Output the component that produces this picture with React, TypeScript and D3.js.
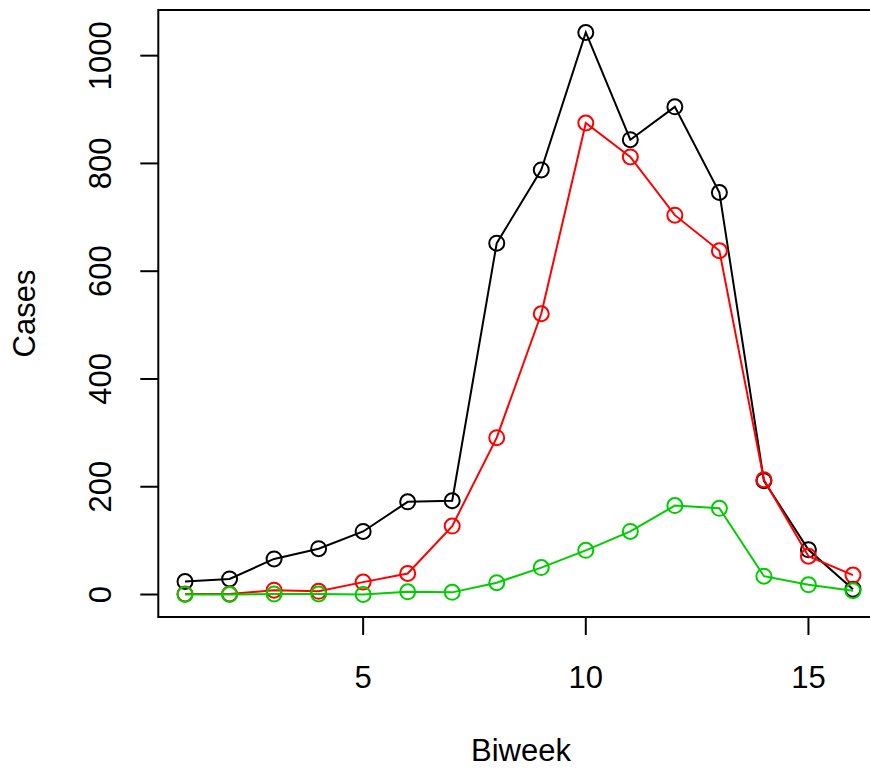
import React from "react";
import * as d3 from "d3";

const biweeks = [1, 2, 3, 4, 5, 6, 7, 8, 9, 10, 11, 12, 13, 14, 15, 16];
const totalCases = [24, 29, 66, 85, 117, 172, 174, 652, 788, 1043, 844, 905, 746, 211, 83, 10];
const redCases = [1, 1, 8, 6, 23, 39, 127, 291, 521, 875, 812, 704, 638, 213, 71, 36];
const greenCases = [0, 0, 1, 1, 0, 5, 4, 22, 50, 82, 117, 165, 160, 34, 18, 7];
const xTicks = [5, 10, 15];
const yTicks = [0, 200, 400, 600, 800, 1000];

const W = 870;
const H = 768;
const left = 158.3;
const right = 879.7;
const top = 10;
const bottom = 617;
const FONT = "'Liberation Sans', Arial, Helvetica, sans-serif";
const FS = 31;

export default function App() {
  const xMin = 1, xMax = 16;
  const xPad = (xMax - xMin) * 0.04;
  const x = d3.scaleLinear().domain([xMin - xPad, xMax + xPad]).range([left, right]);
  const all = [...totalCases, ...redCases, ...greenCases];
  const yMin = d3.min(all) as number;
  const yMax = d3.max(all) as number;
  const yPad = (yMax - yMin) * 0.04;
  const y = d3.scaleLinear().domain([yMin - yPad, yMax + yPad]).range([bottom, top]);

  const series = [
    { values: totalCases, color: "#000000" },
    { values: redCases, color: "#FF0000" },
    { values: greenCases, color: "#00CD00" },
  ];

  const line = d3
    .line<number>()
    .x((_, i) => x(biweeks[i]))
    .y((d) => y(d));

  return (
    <svg
      width={W}
      height={H}
      style={{ position: "absolute", left: 0, top: 0, background: "#fff" }}
      fontFamily={FONT}
    >
      <defs>
        <clipPath id="plotclip">
          <rect x={left} y={top} width={right - left} height={bottom - top} />
        </clipPath>
      </defs>
      <g clipPath="url(#plotclip)">
        {series.map((s, si) => (
          <g key={si}>
            <path d={line(s.values) || ""} fill="none" stroke={s.color} strokeWidth={2} />
            {s.values.map((v, i) => (
              <circle
                key={i}
                cx={x(biweeks[i])}
                cy={y(v)}
                r={7.5}
                fill="none"
                stroke={s.color}
                strokeWidth={2}
              />
            ))}
          </g>
        ))}
      </g>
      <rect
        x={left}
        y={top}
        width={right - left}
        height={bottom - top}
        fill="none"
        stroke="#000"
        strokeWidth={2}
      />
      {xTicks.map((t) => (
        <g key={t}>
          <line x1={x(t)} x2={x(t)} y1={bottom} y2={bottom + 18} stroke="#000" strokeWidth={2} />
          <text x={x(t)} y={688} textAnchor="middle" fontSize={FS}>
            {t}
          </text>
        </g>
      ))}
      {yTicks.map((t) => (
        <g key={t}>
          <line x1={left - 18} x2={left} y1={y(t)} y2={y(t)} stroke="#000" strokeWidth={2} />
          <text
            transform={`translate(111, ${y(t)}) rotate(-90)`}
            textAnchor="middle"
            fontSize={FS}
          >
            {t}
          </text>
        </g>
      ))}
      <text x={521} y={761} textAnchor="middle" fontSize={FS}>
        Biweek
      </text>
      <text transform={`translate(35, ${(top + bottom) / 2}) rotate(-90)`} textAnchor="middle" fontSize={FS}>
        Cases
      </text>
    </svg>
  );
}
